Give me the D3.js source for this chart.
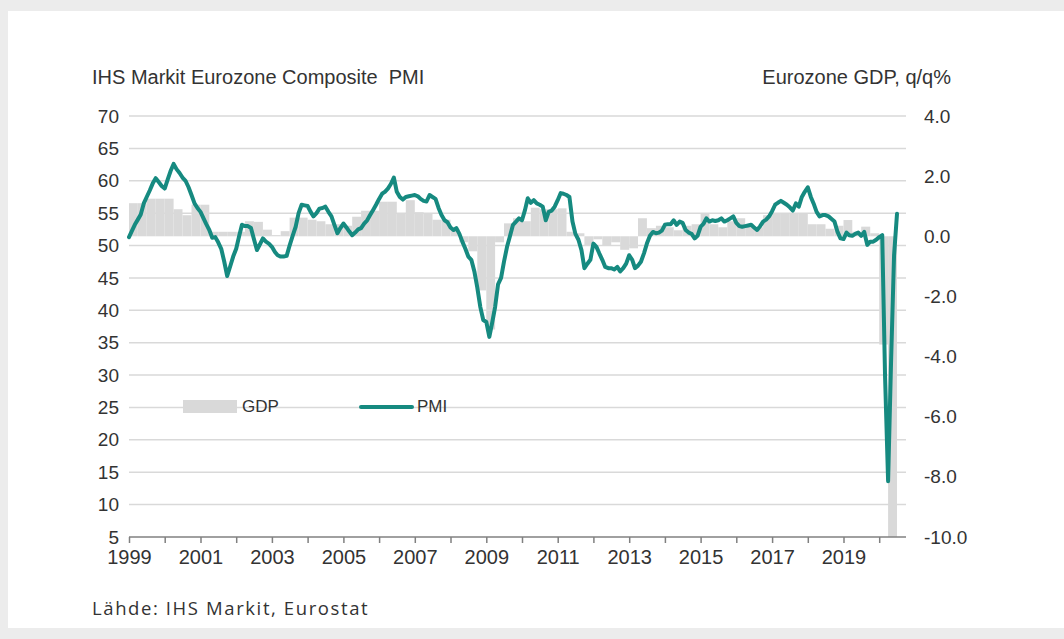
<!doctype html>
<html>
<head>
<meta charset="utf-8">
<script src="https://cdn.jsdelivr.net/npm/d3@7"></script>
<style>
  html, body { margin: 0; padding: 0; background: #ececec; }
  svg { display: block; }
  text { font-family: "Liberation Sans", Arial, sans-serif; fill: #333; }
</style>
</head>
<body>
<svg id="chart" width="1064" height="639"></svg>
<script>
// monthly composite PMI, Jan 1999 - Jul 2020
const pmiStart = new Date(1999, 0, 1)
const pmiValues = [
  51.3, 52.3, 53.2, 54.0, 54.8, 56.5, 57.5, 58.5, 59.6, 60.4, 59.8, 59.2, // 1999
  58.8, 60.2, 61.5, 62.6, 61.8, 61.2, 60.5, 60.0, 59.0, 57.8, 56.5, 55.8, // 2000
  55.2, 54.2, 53.3, 52.4, 51.2, 51.3, 50.5, 49.5, 47.5, 45.3, 46.8, 48.3, // 2001
  49.5, 51.5, 53.2, 53.0, 53.0, 52.7, 51.0, 49.3, 50.2, 51.1, 50.6, 50.3, // 2002
  49.8, 49.0, 48.5, 48.3, 48.3, 48.4, 50.0, 51.5, 52.9, 55.0, 56.3, 56.2, // 2003
  56.1, 55.2, 54.5, 55.0, 55.7, 55.8, 56.0, 55.2, 54.5, 53.2, 51.9, 52.7, // 2004
  53.4, 52.8, 52.2, 51.6, 52.0, 52.5, 52.7, 53.4, 53.9, 54.7, 55.5, 56.3, // 2005
  57.2, 58.0, 58.3, 58.8, 59.5, 60.5, 58.3, 57.5, 57.1, 57.5, 57.6, 57.7, // 2006
  57.8, 57.6, 57.2, 56.9, 56.8, 57.8, 57.5, 57.2, 55.8, 54.7, 53.9, 53.6, // 2007
  52.8, 52.4, 52.7, 51.8, 50.6, 49.5, 48.3, 47.8, 46.0, 43.5, 40.5, 38.5, // 2008
  38.2, 35.9, 38.0, 40.5, 44.0, 45.0, 47.5, 49.8, 51.5, 53.2, 53.7, 54.2, // 2009
  53.9, 55.5, 57.3, 56.6, 57.0, 56.5, 56.3, 56.0, 53.9, 55.2, 55.4, 56.0, // 2010
  57.0, 58.1, 58.0, 57.8, 57.5, 53.7, 51.8, 50.9, 49.3, 46.5, 47.2, 47.8, // 2011
  50.3, 49.8, 48.8, 47.8, 46.7, 46.5, 46.5, 46.3, 46.7, 46.0, 46.5, 47.2, // 2012
  48.5, 47.8, 46.5, 46.9, 47.5, 48.8, 50.3, 51.5, 52.1, 51.9, 52.0, 52.3, // 2013
  53.2, 53.3, 53.3, 53.9, 53.2, 53.7, 53.5, 52.4, 52.0, 51.8, 51.1, 51.5, // 2014
  52.9, 53.4, 54.2, 53.7, 53.9, 53.8, 53.9, 54.2, 53.7, 53.9, 54.2, 54.5, // 2015
  53.5, 53.0, 52.9, 53.0, 53.1, 53.2, 52.8, 52.4, 53.0, 53.7, 54.0, 54.5, // 2016
  55.3, 56.3, 56.6, 56.9, 56.6, 56.3, 55.9, 55.4, 56.5, 56.0, 57.5, 58.3, // 2017
  59.0, 57.5, 56.5, 55.2, 54.5, 54.7, 54.7, 54.5, 54.1, 53.7, 52.1, 51.1, // 2018
  51.0, 52.0, 51.6, 51.5, 51.8, 52.0, 51.5, 52.1, 50.1, 50.6, 50.6, 50.9, // 2019
  51.3, 51.6, 29.7, 13.6, 31.9, 48.5, 54.9                                // 2020
]

// quarterly GDP q/q %, 1999 Q1 - 2020 Q2
const gdpStart = new Date(1999, 0, 1)
const gdpValues = [
  1.1, 1.1, 1.25, 1.25,     // 1999
  1.25, 0.9, 0.7, 1.05,     // 2000
  1.05, 0.15, 0.15, 0.15,   // 2001
  0.15, 0.5, 0.48, 0.22,    // 2002
  0.04, 0.17, 0.62, 0.62,   // 2003
  0.55, 0.5, 0.4, 0.4,      // 2004
  0.35, 0.65, 0.85, 0.85,   // 2005
  1.15, 1.15, 0.75, 1.2,    // 2006
  0.8, 0.75, 0.55, 0.55,    // 2007
  0.25, -0.2, -0.5, -1.8,   // 2008
  -3.1, -0.2, 0.43, 0.6,    // 2009
  0.5, 0.95, 0.9, 0.9,      // 2010
  0.93, 0.15, 0.1, -0.3,    // 2011
  -0.1, -0.3, -0.2, -0.45,  // 2012
  -0.4, 0.6, 0.27, 0.35,    // 2013
  0.3, 0.2, 0.35, 0.4,      // 2014
  0.77, 0.4, 0.3, 0.5,      // 2015
  0.6, 0.35, 0.3, 0.7,      // 2016
  0.77, 0.77, 0.77, 0.77,   // 2017
  0.4, 0.4, 0.25, 0.35,     // 2018
  0.54, 0.15, 0.32, 0.1,    // 2019
  -3.6, -11.8               // 2020
]

const leftTicks = [5, 10, 15, 20, 25, 30, 35, 40, 45, 50, 55, 60, 65, 70]
const rightTicks = [4, 2, 0, -2, -4, -6, -8, -10]
const yearLabels = [1999, 2001, 2003, 2005, 2007, 2009, 2011, 2013, 2015, 2017, 2019]

const titleLeft = 'IHS Markit Eurozone Composite  PMI'
const titleRight = 'Eurozone GDP, q/q%'
const source = 'Lähde: IHS Markit, Eurostat'

const teal = '#168a80'
const barGray = '#d9d9d9'

const pmi = pmiValues.map((value, i) => ({ date: d3.timeMonth.offset(pmiStart, i), value }))
const gdp = gdpValues.map((value, i) => ({
  date: d3.timeMonth.offset(gdpStart, 3 * i),
  end: d3.timeMonth.offset(gdpStart, 3 * i + 3),
  value
}))

const plot = { left: 129, right: 906, top: 116, bottom: 537 }

const x = d3.scaleTime()
  .domain([new Date(1999, 0, 1), new Date(2020, 9, 1)])
  .range([plot.left, plot.right])
const yLeft = d3.scaleLinear().domain([5, 70]).range([plot.bottom, plot.top])
const yRight = d3.scaleLinear().domain([-10, 4]).range([plot.bottom, plot.top]).clamp(true)

const svg = d3.select('#chart')

svg.append('rect')
  .attr('x', 8).attr('y', 11)
  .attr('width', 1056).attr('height', 617)
  .attr('fill', '#fff')

svg.append('text')
  .attr('x', 92).attr('y', 84)
  .attr('font-size', 20)
  .style('white-space', 'pre')
  .text(titleLeft)

svg.append('text')
  .attr('x', 951).attr('y', 84)
  .attr('font-size', 20)
  .attr('text-anchor', 'end')
  .text(titleRight)

// gridlines from the left axis
svg.append('g')
  .selectAll('line')
  .data(leftTicks.filter(d => d !== 5))
  .join('line')
  .attr('x1', plot.left).attr('x2', plot.right)
  .attr('y1', d => yLeft(d)).attr('y2', d => yLeft(d))
  .attr('stroke', '#d9d9d9')
  .attr('stroke-width', 1.5)

const leftAxis = svg.append('g')
  .attr('transform', `translate(${plot.left - 10},0)`)
  .call(d3.axisLeft(yLeft).tickValues(leftTicks).tickSize(0).tickPadding(0))
leftAxis.select('.domain').remove()
leftAxis.selectAll('text')
  .attr('font-size', 19)
  .attr('font-family', '"Liberation Sans", Arial, sans-serif')
  .attr('fill', '#333')

const rightAxis = svg.append('g')
  .attr('transform', `translate(${plot.right + 18},0)`)
  .call(d3.axisRight(yRight).tickValues(rightTicks).tickSize(0).tickPadding(0)
    .tickFormat(d => d3.format('.1f')(d).replace('\u2212', '-')))
rightAxis.select('.domain').remove()
rightAxis.selectAll('text')
  .attr('font-size', 19)
  .attr('font-family', '"Liberation Sans", Arial, sans-serif')
  .attr('fill', '#333')

svg.append('g')
  .selectAll('rect')
  .data(gdp)
  .join('rect')
  .attr('x', d => x(d.date))
  .attr('width', d => x(d.end) - x(d.date))
  .attr('y', d => Math.min(yRight(d.value), yRight(0)))
  .attr('height', d => Math.abs(yRight(d.value) - yRight(0)))
  .attr('fill', barGray)

const xAxis = svg.append('g')
  .attr('transform', `translate(0,${plot.bottom})`)
  .call(d3.axisBottom(x)
    .ticks(d3.timeYear.every(1))
    .tickSize(6)
    .tickPadding(7)
    .tickFormat(d => yearLabels.includes(d.getFullYear()) ? d3.timeFormat('%Y')(d) : ''))
xAxis.select('.domain')
  .attr('d', `M${plot.left},0H${plot.right}`)
  .attr('stroke', '#808080')
  .attr('stroke-width', 1.5)
xAxis.selectAll('.tick line').attr('stroke', '#808080').attr('stroke-width', 1.5)
xAxis.selectAll('text')
  .attr('font-size', 20)
  .attr('font-family', '"Liberation Sans", Arial, sans-serif')
  .attr('fill', '#333')

const line = d3.line()
  .x(d => x(d.date))
  .y(d => yLeft(d.value))

svg.append('path')
  .datum(pmi)
  .attr('d', line)
  .attr('fill', 'none')
  .attr('stroke', teal)
  .attr('stroke-width', 4)
  .attr('stroke-linejoin', 'round')
  .attr('stroke-linecap', 'round')

// legend
const legend = svg.append('g')
legend.append('rect')
  .attr('x', 183).attr('y', 400)
  .attr('width', 54).attr('height', 13)
  .attr('fill', barGray)
legend.append('text')
  .attr('x', 242).attr('y', 412)
  .attr('font-size', 17)
  .text('GDP')
legend.append('line')
  .attr('x1', 361).attr('x2', 412)
  .attr('y1', 407).attr('y2', 407)
  .attr('stroke', teal)
  .attr('stroke-width', 4)
  .attr('stroke-linecap', 'round')
legend.append('text')
  .attr('x', 417).attr('y', 412)
  .attr('font-size', 17)
  .text('PMI')

svg.append('text')
  .attr('x', 92).attr('y', 615)
  .attr('font-size', 18.5)
  .attr('letter-spacing', 1.6)
  .style('font-family', '"Open Sans", Roboto, sans-serif')
  .text(source)
</script>
</body>
</html>
